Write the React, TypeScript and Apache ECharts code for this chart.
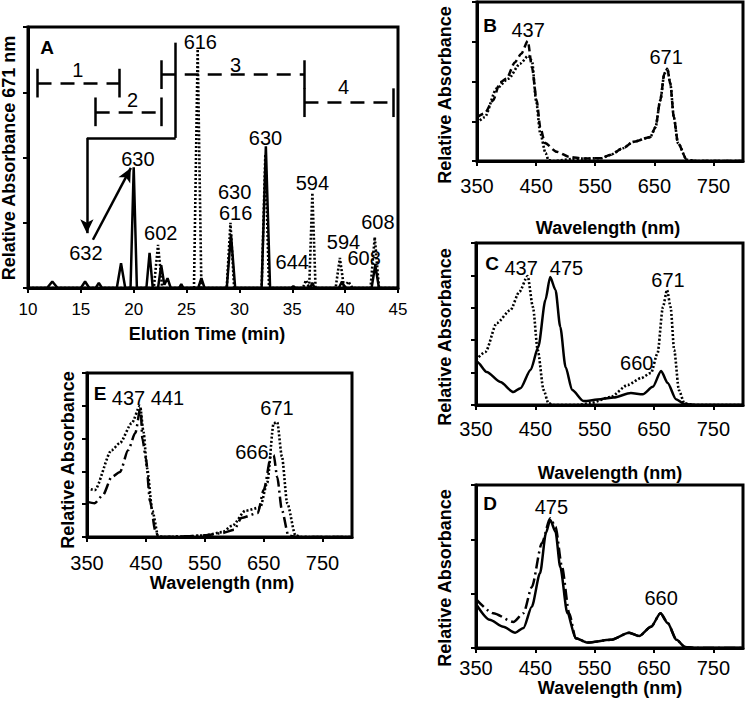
import React, { useEffect, useRef } from "react";
import * as echarts from "echarts";

const FONT = '"Liberation Sans", Arial, Helvetica, sans-serif';

// ---------- Panel A: elution profile (time in min, relative absorbance 671 nm) ----------
const elutionSolid: number[][] = [
  [10, 0], [11.8, 0], [12.3, 0.1], [12.8, 0], [15.0, 0], [15.4, 0.1], [15.8, 0],
  [16.4, 0], [16.7, 0.08], [17.0, 0], [18.4, 0], [18.8, 0.38], [19.2, 0],
  [19.7, 0], [20.0, 1.85], [20.3, 0], [21.2, 0], [21.5, 0.54], [21.8, 0],
  [22.3, 0], [22.6, 0.35], [22.9, 0.05], [23.2, 0.15], [23.5, 0], [24.3, 0],
  [24.5, 0.06], [24.7, 0], [26.1, 0], [26.4, 0.15], [26.7, 0], [28.8, 0],
  [29.2, 0.82], [29.6, 0], [32.1, 0], [32.5, 2.17], [32.9, 0], [34.9, 0],
  [35.1, 0.03], [35.3, 0], [36.7, 0], [36.9, 0.08], [37.1, 0], [39.4, 0],
  [39.7, 0.1], [40, 0], [42.5, 0], [42.85, 0.35], [43.2, 0], [45, 0],
];
const elutionDotted: number[][] = [
  [10, 0], [21.9, 0], [22.3, 0.66], [22.7, 0], [25.7, 0], [26.05, 3.66], [26.4, 0],
  [28.8, 0], [29.15, 1.0], [29.5, 0], [32.1, 0], [32.45, 2.05], [32.8, 0],
  [36.0, 0], [36.3, 0.12], [36.6, 0], [36.9, 1.46], [37.2, 0], [39.1, 0],
  [39.5, 0.46], [39.9, 0], [40.3, 0.1], [40.7, 0], [42.4, 0], [42.8, 0.78],
  [43.2, 0], [45, 0],
];
const elutionLabels = [
  { x: 26.3, y: 3.77, text: "616" },
  { x: 20.39, y: 1.98, text: "630" },
  { x: 15.48, y: 0.54, text: "632" },
  { x: 22.56, y: 0.84, text: "602" },
  { x: 29.55, y: 1.47, text: "630" },
  { x: 29.64, y: 1.15, text: "616" },
  { x: 32.47, y: 2.3, text: "630" },
  { x: 36.9, y: 1.61, text: "594" },
  { x: 35.0, y: 0.4, text: "644" },
  { x: 39.84, y: 0.71, text: "594" },
  { x: 41.8, y: 0.46, text: "608" },
  { x: 43.1, y: 1.01, text: "608" },
];
// fraction brackets: start/end time, level
const fractionNames = ["1", "2", "3", "4"];
const fractionStart = [10.9, 16.4, 22.65, 36.15];
const fractionEnd = [18.6, 22.65, 36.15, 44.55];
const fractionLevel = [3.14, 2.7, 3.27, 2.84];
const fractionLabelPos = [
  [14.72, 3.34], [19.9, 2.88], [29.64, 3.42], [39.84, 3.08],
];
const selectionPath = [[23.97, 3.76], [23.97, 2.3], [15.57, 2.3], [15.57, 0.84]];
const assignArrow = [[16.14, 0.74], [19.73, 1.84]];

// ---------- Panel B ----------
const bDashed: number[][] = [
  [350, 1.1], [363, 1.2], [377, 1.52], [389, 1.98], [400, 2.07], [414, 2.48],
  [425, 2.7], [436, 3.02], [443, 2.35], [451, 1.52], [457, 0.85], [465, 0.45],
  [485, 0.23], [507, 0.1], [530, 0.06], [560, 0.07], [575, 0.15], [597, 0.32],
  [614, 0.48], [643, 0.6], [652, 0.85], [660, 1.52], [667, 2.2], [672, 2.32],
  [677, 1.95], [683, 1.1], [690, 0.45], [705, 0.03], [720, 0], [800, 0],
];
const bDotted: number[][] = [
  [350, 0.95], [363, 1.1], [383, 1.82], [403, 2.07], [423, 2.45], [437, 2.65],
  [443, 2.52], [450, 1.52], [457, 0.7], [466, 0.2], [471, 0.02], [480, 0],
  [510, 0.05], [530, 0.06], [560, 0.07], [575, 0.15], [597, 0.32], [614, 0.48],
  [643, 0.6], [652, 0.85], [660, 1.52], [667, 2.2], [672, 2.32], [677, 1.95],
  [683, 1.1], [690, 0.45], [705, 0.03], [720, 0], [800, 0],
];
const bLabels = [
  { x: 436.4, y: 3.29, text: "437" },
  { x: 670, y: 2.61, text: "671" },
];

// ---------- Panel C ----------
const cSolid: number[][] = [
  [350, 1.35], [352, 1.33], [368, 1.02], [391, 0.71], [413, 0.4], [425, 0.52],
  [442, 1.08], [455, 1.79], [467, 3.24], [475, 3.95], [484, 3.55], [492, 2.41],
  [501, 1.17], [512, 0.46], [531, 0.12], [560, 0.18], [582, 0.23], [611, 0.37],
  [631, 0.33], [648, 0.56], [662, 1.05], [673, 0.68], [687, 0.18], [701, 0.03],
  [720, 0], [800, 0],
];
const cDotted: number[][] = [
  [350, 1.39], [366, 1.64], [385, 2.53], [408, 2.93], [423, 3.49], [437, 3.98],
  [446, 3.02], [454, 1.7], [464, 0.46], [472, 0.06], [480, 0], [520, 0],
  [543, 0.06], [577, 0.25], [606, 0.62], [628, 0.83], [645, 0.99], [656, 1.6],
  [665, 3.02], [672, 3.55], [678, 3.02], [684, 1.7], [692, 0.46], [701, 0.06],
  [715, 0], [800, 0],
];
const cLabels = [
  { x: 426, y: 4.23, text: "437" },
  { x: 502.5, y: 4.23, text: "475" },
  { x: 673.7, y: 3.86, text: "671" },
  { x: 621, y: 1.3, text: "660" },
];

// ---------- Panel D ----------
const dSolid: number[][] = [
  [350, 0.81], [373, 0.52], [396, 0.39], [416, 0.28], [430, 0.37], [444, 0.76],
  [458, 1.38], [468, 2.12], [475, 2.36], [484, 2.14], [492, 1.49], [504, 0.64],
  [518, 0.18], [538, 0.1], [577, 0.15], [608, 0.28], [625, 0.22], [645, 0.39],
  [661, 0.64], [673, 0.46], [688, 0.15], [702, 0.02], [720, 0], [800, 0],
];
const dDashDot: number[][] = [
  [350, 0.9], [379, 0.64], [413, 0.48], [430, 0.64], [444, 1.12], [461, 1.93],
  [475, 2.39], [484, 2.23], [495, 1.49], [507, 0.64], [518, 0.18], [538, 0.1],
  [577, 0.15], [608, 0.28], [625, 0.22], [645, 0.39], [661, 0.64], [673, 0.46],
  [688, 0.15], [702, 0.02], [720, 0], [800, 0],
];
const dLabels = [
  { x: 477, y: 2.6, text: "475" },
  { x: 662, y: 0.92, text: "660" },
];

// ---------- Panel E ----------
const eDotted: number[][] = [
  [350, 1.5], [363, 1.43], [392, 2.65], [406, 2.87], [426, 3.47], [440, 4.0],
  [446, 3.2], [452, 2.1], [461, 0.8], [471, 0.02], [480, 0], [520, 0.02],
  [550, 0.05], [580, 0.15], [597, 0.35], [619, 0.8], [644, 0.9], [656, 1.65],
  [667, 3.47], [673, 3.5], [681, 2.45], [690, 1.03], [704, 0.05], [715, 0], [800, 0],
];
const eDashDot: number[][] = [
  [350, 1.07], [363, 1.03], [377, 1.28], [392, 1.83], [406, 1.98], [420, 2.65],
  [432, 3.17], [441, 3.96], [444, 3.0], [450, 2.4], [457, 1.1], [466, 0.2],
  [471, 0.02], [480, 0], [520, 0.02], [550, 0.05], [580, 0.12], [600, 0.22],
  [612, 0.58], [640, 0.73], [650, 1.43], [663, 2.5], [667, 2.5], [673, 1.83],
  [681, 0.82], [692, 0.05], [705, 0], [800, 0],
];
const eLabels = [
  { x: 453.6, y: 4.24, text: "437 441" },
  { x: 672.6, y: 3.93, text: "671" },
  { x: 630, y: 2.59, text: "666" },
];

const wavelengthTicks = { min: 350, max: 800, interval: 100 };
const elutionAxis = { min: 10, max: 45, interval: 5 };
const yMax = [4, 4, 5, 3, 5];

const grids = [
  { left: 28, top: 27, width: 370, height: 261 },
  { left: 477, top: 2, width: 266, height: 159 },
  { left: 476, top: 243, width: 267, height: 162 },
  { left: 476, top: 485, width: 267, height: 163 },
  { left: 87, top: 373, width: 265, height: 164 },
];
const labelMargin = [13, 15, 14, 10, 16];

const SOLID = { color: "#000", width: 2.5, type: "solid" as any };
const DOTTED = { color: "#000", width: 2.6, type: [2, 2] as any };
const DASHED = { color: "#000", width: 2.5, type: [7, 4] as any };
const DASHDOT = { color: "#000", width: 2.5, type: [11, 4, 2, 4] as any };

function lineSeries(idx: number, data: number[][], style: any, extra: any = {}) {
  return {
    type: "line",
    xAxisIndex: idx,
    yAxisIndex: idx,
    data,
    showSymbol: false,
    symbol: "none",
    lineStyle: style,
    z: 3,
    silent: true,
    ...extra,
  };
}
const SMOOTH = { smooth: 0.25, smoothMonotone: "x" };

function labelSeries(idx: number, labels: { x: number; y: number; text: string }[], size = 20) {
  return {
    type: "scatter",
    xAxisIndex: idx,
    yAxisIndex: idx,
    symbolSize: 1,
    itemStyle: { color: "rgba(0,0,0,0)", opacity: 1 },
    silent: true,
    z: 5,
    data: labels.map((l) => ({ value: [l.x, l.y], name: l.text })),
    label: {
      show: true,
      position: "inside",
      formatter: "{b}",
      color: "#000",
      opacity: 1,
      textBorderWidth: 0,
      textBorderColor: "transparent",
      fontSize: size,
      fontFamily: FONT,
    },
  };
}

function buildMarkLines() {
  const items: any[] = [];
  const bar = 0.22;
  for (let i = 0; i < fractionNames.length; i++) {
    const lv = fractionLevel[i];
    items.push([
      { coord: [fractionStart[i], lv], symbol: "none", lineStyle: { type: [14, 9], width: 2.5, color: "#000" } },
      { coord: [fractionEnd[i], lv], symbol: "none" },
    ]);
    items.push([
      { coord: [fractionStart[i], lv + bar], symbol: "none", lineStyle: { type: "solid", width: 2.5, color: "#000" } },
      { coord: [fractionStart[i], lv - bar], symbol: "none" },
    ]);
    items.push([
      { coord: [fractionEnd[i], lv + bar], symbol: "none", lineStyle: { type: "solid", width: 2.5, color: "#000" } },
      { coord: [fractionEnd[i], lv - bar], symbol: "none" },
    ]);
  }
  for (let i = 0; i < selectionPath.length - 1; i++) {
    const last = i === selectionPath.length - 2;
    items.push([
      { coord: selectionPath[i], symbol: "none", lineStyle: { type: "solid", width: 2.5, color: "#000" } },
      { coord: selectionPath[i + 1], symbol: last ? "arrow" : "none", symbolSize: [10, 14] },
    ]);
  }
  items.push([
    { coord: assignArrow[0], symbol: "none", lineStyle: { type: "solid", width: 2.5, color: "#000" } },
    { coord: assignArrow[1], symbol: "arrow", symbolSize: [10, 14] },
  ]);
  return {
    silent: true,
    animation: false,
    symbol: ["none", "none"],
    label: { show: false },
    lineStyle: { color: "#000", width: 2.5 },
    emphasis: { disabled: true },
    data: items,
  };
}

function txt(x: number, y: number, text: string, size: number, bold: boolean, rot = 0) {
  return {
    type: "text",
    x,
    y,
    rotation: rot,
    z: 10,
    silent: true,
    style: {
      text,
      fill: "#000",
      font: `${bold ? "bold " : ""}${size}px ${FONT}`,
      align: "center",
      verticalAlign: "middle",
      textAlign: "center",
      textVerticalAlign: "middle",
    },
  };
}

export default function App() {
  const ref = useRef<HTMLDivElement>(null);
  useEffect(() => {
    if (!ref.current) return;
    const chart = echarts.init(ref.current, undefined, { renderer: "svg" });
    const xAxes = grids.map((_, i) => {
      const isA = i === 0;
      const sc = isA ? elutionAxis : wavelengthTicks;
      return {
        type: "value",
        gridIndex: i,
        min: sc.min,
        max: sc.max,
        interval: sc.interval,
        axisLine: { show: true, onZero: false, lineStyle: { color: "#000", width: 3 } },
        axisTick: { show: true, inside: false, length: 5, lineStyle: { color: "#000", width: 2 } },
        axisLabel: {
          show: true,
          color: "#000",
          fontSize: isA ? 17 : 20,
          fontFamily: FONT,
          margin: labelMargin[i],
          showMaxLabel: isA,
          showMinLabel: true,
        },
        splitLine: { show: false },
      };
    });
    const yAxes = grids.map((_, i) => ({
      type: "value",
      gridIndex: i,
      min: 0,
      max: yMax[i],
      interval: 1,
      axisLine: { show: true, onZero: false, lineStyle: { color: "#000", width: 3 } },
      axisTick: { show: true, inside: false, length: 5, lineStyle: { color: "#000", width: 2 } },
      axisLabel: { show: false },
      splitLine: { show: false },
    }));

    const option: any = {
      animation: false,
      backgroundColor: "#fff",
      grid: grids.map((g) => ({
        ...g,
        show: true,
        borderColor: "#000",
        borderWidth: 3,
        backgroundColor: "transparent",
        containLabel: false,
      })),
      xAxis: xAxes,
      yAxis: yAxes,
      series: [
        lineSeries(0, elutionDotted, DOTTED),
        lineSeries(0, elutionSolid, SOLID, { markLine: buildMarkLines() }),
        labelSeries(0, elutionLabels),
        labelSeries(
          0,
          fractionNames.map((n, i) => ({ x: fractionLabelPos[i][0], y: fractionLabelPos[i][1], text: n }))
        ),
        lineSeries(1, bDotted, DOTTED, SMOOTH),
        lineSeries(1, bDashed, DASHED, SMOOTH),
        labelSeries(1, bLabels),
        lineSeries(2, cDotted, DOTTED, SMOOTH),
        lineSeries(2, cSolid, SOLID, SMOOTH),
        labelSeries(2, cLabels),
        lineSeries(3, dDashDot, DASHDOT, SMOOTH),
        lineSeries(3, dSolid, SOLID, SMOOTH),
        labelSeries(3, dLabels),
        lineSeries(4, eDotted, DOTTED, SMOOTH),
        lineSeries(4, eDashDot, DASHDOT, SMOOTH),
        labelSeries(4, eLabels),
      ],
      graphic: [
        txt(9, 158, "Relative Absorbance 671 nm", 18, true, Math.PI / 2),
        txt(207, 334, "Elution Time (min)", 18, true),
        txt(445, 95, "Relative Absorbance", 18, true, Math.PI / 2),
        txt(445, 337, "Relative Absorbance", 18, true, Math.PI / 2),
        txt(445, 578, "Relative Absorbance", 18, true, Math.PI / 2),
        txt(68, 460, "Relative Absorbance", 18, true, Math.PI / 2),
        txt(608, 228, "Wavelength (nm)", 18, true),
        txt(610, 473, "Wavelength (nm)", 18, true),
        txt(610, 688, "Wavelength (nm)", 18, true),
        txt(222, 583, "Wavelength (nm)", 18, true),
        txt(47, 47, "A", 19, true),
        txt(490, 25, "B", 19, true),
        txt(492, 263, "C", 19, true),
        txt(490, 503, "D", 19, true),
        txt(100, 393, "E", 19, true),
      ],
    };
    chart.setOption(option);
    return () => chart.dispose();
  }, []);
  return (
    <div
      ref={ref}
      style={{ position: "absolute", left: 0, top: 0, width: 745, height: 701, background: "#fff" }}
    />
  );
}
